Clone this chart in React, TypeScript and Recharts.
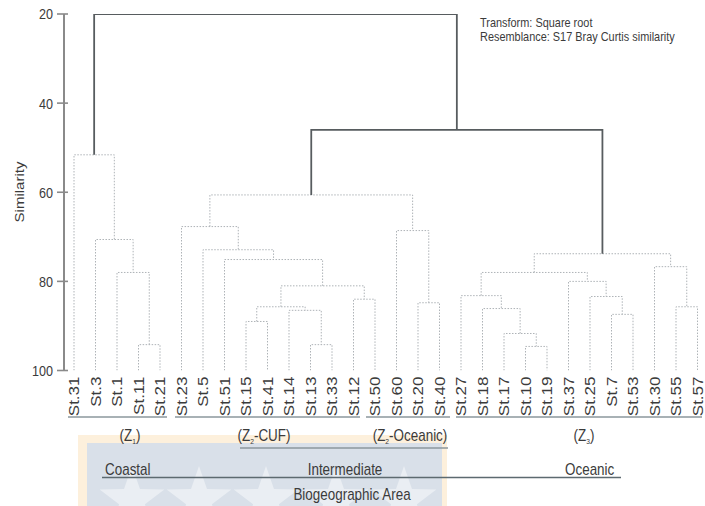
import { LineChart, Line, XAxis, YAxis } from "recharts";

// Stations in dendrogram leaf order (left to right)
const LEAVES = [
  "St.31", "St.3", "St.1", "St.11", "St.21",
  "St.23", "St.5", "St.51", "St.15", "St.41", "St.14", "St.13", "St.33", "St.12",
  "St.50", "St.60", "St.20", "St.40",
  "St.27", "St.18", "St.17", "St.10", "St.19", "St.37", "St.25", "St.7", "St.53",
  "St.30", "St.55", "St.57",
];

// Agglomeration steps: [left child, right child, similarity at the join]
// children are station names or earlier step ids ("m1", "m2", ...)
const MERGES: [string, string, number][] = [
  ["St.11", "St.21", 94.2], // m1
  ["St.1", "m1", 78.0], // m2
  ["St.3", "m2", 70.6], // m3
  ["St.31", "m3", 51.6], // m4  Z1
  ["St.13", "St.33", 94.2], // m5
  ["St.14", "m5", 86.5], // m6
  ["St.15", "St.41", 89.0], // m7
  ["m7", "m6", 85.7], // m8
  ["St.12", "St.50", 84.0], // m9
  ["m8", "m9", 81.0], // m10
  ["St.51", "m10", 75.1], // m11
  ["St.5", "m11", 72.9], // m12
  ["St.23", "m12", 67.7], // m13
  ["St.20", "St.40", 84.8], // m14
  ["St.60", "m14", 68.6], // m15
  ["m13", "m15", 60.6], // m16  Z2
  ["St.10", "St.19", 94.6], // m17
  ["St.17", "m17", 91.7], // m18
  ["St.18", "m18", 86.1], // m19
  ["St.27", "m19", 83.2], // m20
  ["St.7", "St.53", 87.4], // m21
  ["St.25", "m21", 83.4], // m22
  ["St.37", "m22", 80.0], // m23
  ["m20", "m23", 78.0], // m24
  ["St.55", "St.57", 85.7], // m25
  ["St.30", "m25", 76.7], // m26
  ["m24", "m26", 73.8], // m27  Z3
  ["m16", "m27", 46.0], // m28
  ["m4", "m28", 20.0], // m29 root
];

// joins drawn with a solid stroke (the top of the tree)
const SOLID_STEPS = ["m28", "m29"];

const Y_TICKS = [20, 40, 60, 80, 100];

const FONT = "'Liberation Sans', Arial, Helvetica, sans-serif";
const INK = "#3b3b3b";
const SQUEEZE = 0.84;

type Pt = { x: number; y: number };
type Link = { id: string; points: Pt[]; solid: boolean };

function buildLinks(): Link[] {
  const pos: Record<string, Pt> = {};
  LEAVES.forEach((name, i) => {
    pos[name] = { x: i, y: 100 };
  });
  return MERGES.map(([a, b, sim], i) => {
    const id = `m${i + 1}`;
    const pa = pos[a];
    const pb = pos[b];
    pos[id] = { x: (pa.x + pb.x) / 2, y: sim };
    return {
      id,
      solid: SOLID_STEPS.includes(id),
      points: [
        { x: pa.x, y: pa.y },
        { x: pa.x, y: sim },
        { x: pb.x, y: sim },
        { x: pb.x, y: pb.y },
      ],
    };
  });
}

const links = buildLinks();
const leafTicks = LEAVES.map((_, i) => i);

function SimTick({ x, y, payload }: any) {
  return (
    <g>
      <line x1={x - 7} x2={x + 4} y1={y} y2={y} stroke="#8a8a8a" strokeWidth={1.6} />
      <text
        transform={`translate(${x - 11},${y}) scale(${SQUEEZE},1)`}
        textAnchor="end"
        dy="0.36em"
        fontSize={15}
        fontFamily={FONT}
        fill={INK}
      >
        {payload.value}
      </text>
    </g>
  );
}

function LeafTick({ x, y, payload }: any) {
  return (
    <text
      transform={`translate(${x},${y}) scale(${SQUEEZE},1) rotate(-90)`}
      textAnchor="end"
      dy="0.36em"
      fontSize={17}
      fontFamily={FONT}
      fill={INK}
    >
      {LEAVES[payload.value]}
    </text>
  );
}

function T({ x, y, anchor = "start", size = 16, children }: any) {
  return (
    <text
      transform={`translate(${x},${y}) scale(${SQUEEZE},1)`}
      textAnchor={anchor}
      fontSize={size}
      fontFamily={FONT}
      fill={INK}
    >
      {children}
    </text>
  );
}

function Zone({ x, n, rest }: { x: number; n: string; rest?: string }) {
  return (
    <T x={x} y={441} anchor="middle">
      (Z
      <tspan fontSize={8} dy={3}>{n}</tspan>
      <tspan dy={-3}>{rest ?? ""})</tspan>
    </T>
  );
}

function star(cx: number, cy: number, r: number) {
  const pts: string[] = [];
  for (let i = 0; i < 10; i++) {
    const rr = i % 2 === 0 ? r : r * 0.4;
    const a = -Math.PI / 2 + (i * Math.PI) / 5;
    pts.push(`${cx + rr * Math.cos(a)},${cy + rr * Math.sin(a)}`);
  }
  return pts.join(" ");
}

export default function App() {
  return (
    <div style={{ position: "absolute", left: 0, top: 0, width: 705, height: 506, background: "#fff" }}>
      {/* shield watermark behind the area labels */}
      <svg width={705} height={506} style={{ position: "absolute", left: 0, top: 0 }}>
        <rect x={78} y={435} width={369} height={71} fill="#fdf0dc" />
        <rect x={87} y={443} width={355} height={63} fill="#d9e0e9" />
        {[132, 199, 266, 336, 404].map((cx) => (
          <polygon key={cx} points={star(cx, 500, 34)} fill="#ffffff" opacity={0.45} />
        ))}
      </svg>

      <LineChart
        width={705}
        height={506}
        margin={{ top: 14, right: 7.5, bottom: 0, left: 0 }}
        style={{ position: "absolute", left: 0, top: 0 }}
      >
        <XAxis
          type="number"
          dataKey="x"
          domain={[0, LEAVES.length - 1]}
          ticks={leafTicks}
          interval={0}
          padding={{ left: 10, right: 0 }}
          height={135.5}
          axisLine={false}
          tickLine={false}
          tickSize={0}
          tickMargin={6}
          tick={<LeafTick />}
        />
        <YAxis
          type="number"
          domain={[20, 100]}
          reversed
          ticks={Y_TICKS}
          width={64}
          axisLine={{ stroke: "#8a8a8a", strokeWidth: 2 }}
          tickLine={false}
          tickSize={0}
          tickMargin={0}
          tick={<SimTick />}
          allowDataOverflow
        />
        {links
          .filter((l) => !l.solid)
          .map((l) => (
            <Line
              key={l.id}
              data={l.points}
              dataKey="y"
              type="linear"
              stroke="#aeb3b7"
              strokeWidth={1}
              strokeDasharray="1.5 1.5"
              dot={false}
              activeDot={false}
              isAnimationActive={false}
            />
          ))}
        {links
          .filter((l) => l.solid)
          .map((l) => (
            <Line
              key={l.id}
              data={l.points}
              dataKey="y"
              type="linear"
              stroke="#575c5f"
              strokeWidth={1.8}
              dot={false}
              activeDot={false}
              isAnimationActive={false}
            />
          ))}
      </LineChart>

      <svg width={705} height={506} style={{ position: "absolute", left: 0, top: 0, pointerEvents: "none" }}>
        <text
          transform={`translate(19,192) scale(${SQUEEZE},1) rotate(-90)`}
          textAnchor="middle"
          dy="0.36em"
          fontSize={15}
          fontFamily={FONT}
          fill={INK}
        >
          Similarity
        </text>

        <T x={480} y={27} size={13}>Transform: Square root</T>
        <T x={480} y={41} size={13}>Resemblance: S17 Bray Curtis similarity</T>

        {/* cluster groups */}
        <g stroke="#8b979c" strokeWidth={1.5}>
          <line x1={68} x2={167} y1={417} y2={417} />
          <line x1={175} x2={360} y1={417} y2={417} />
          <line x1={366} x2={450} y1={417} y2={417} />
          <line x1={456} x2={702} y1={417} y2={417} />
          <line x1={240} x2={448} y1={448} y2={448} />
        </g>
        <Zone x={130} n="1" />
        <Zone x={264} n="2" rest="-CUF" />
        <Zone x={410} n="2" rest="-Oceanic" />
        <Zone x={584} n="3" />

        {/* biogeographic areas */}
        <T x={105} y={475}>Coastal</T>
        <T x={345} y={475} anchor="middle">Intermediate</T>
        <T x={565} y={475}>Oceanic</T>
        <line x1={102} x2={621} y1={477.5} y2={477.5} stroke="#5d6a70" strokeWidth={1.5} />
        <T x={352} y={500} anchor="middle">Biogeographic Area</T>
      </svg>
    </div>
  );
}
